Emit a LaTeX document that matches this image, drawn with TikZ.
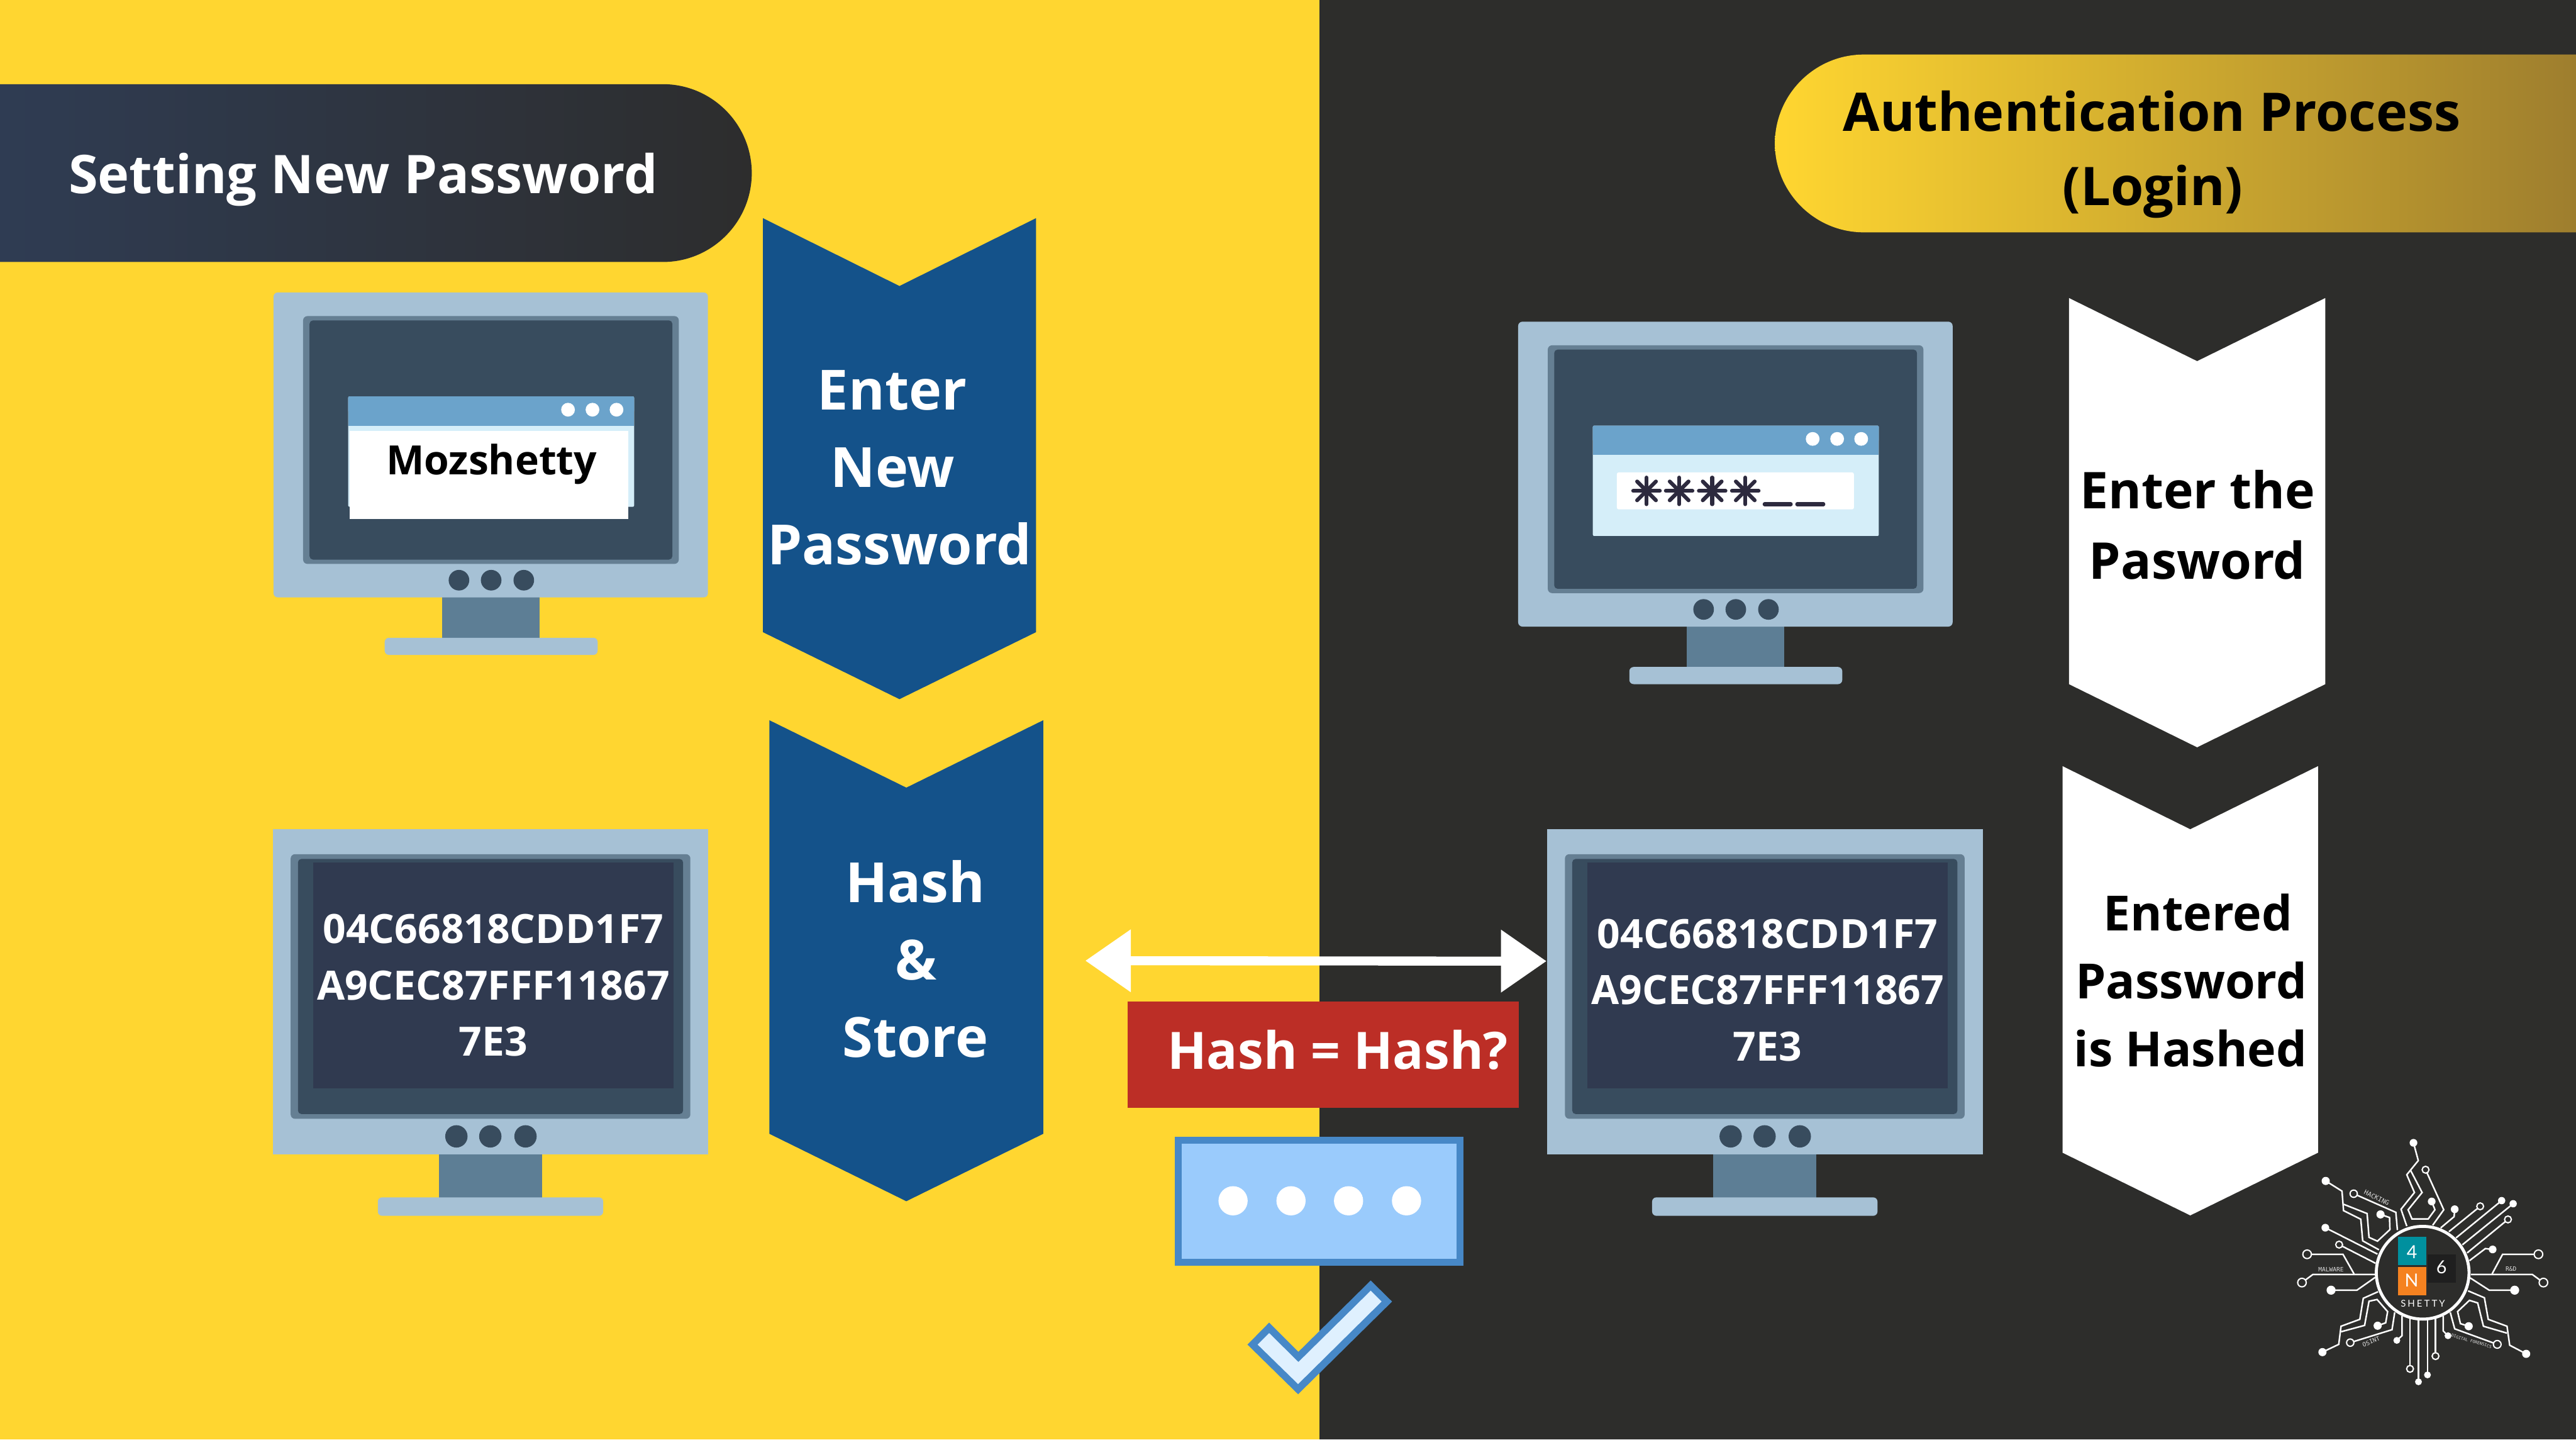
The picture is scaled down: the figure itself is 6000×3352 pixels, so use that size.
\documentclass[tikz,border=0pt]{standalone}
\usepackage{fontspec}
\setmainfont{Open Sans}
\newfontfamily\logomono{DejaVu Sans Mono}
\newfontfamily\logosans{Lato}
\usetikzlibrary{arrows.meta}
\definecolor{bgyellow}{HTML}{FFD630}
\definecolor{bgdark}{HTML}{2D2D2B}
\definecolor{headblue}{HTML}{2F3C53}
\definecolor{headdark}{HTML}{2D2D2D}
\definecolor{headgold}{HTML}{9E7E2E}
\definecolor{chevblue}{HTML}{14528A}
\definecolor{monbody}{HTML}{A6C1D5}
\definecolor{monbezel}{HTML}{657F93}
\definecolor{monscreen}{HTML}{384C5E}
\definecolor{monneck}{HTML}{5D7E95}
\definecolor{moninner}{HTML}{303A50}
\definecolor{wintitle}{HTML}{6BA3CB}
\definecolor{winbody}{HTML}{D5EEF9}
\definecolor{starcol}{HTML}{2D2A3E}
\definecolor{hashred}{HTML}{BC2E26}
\definecolor{boxfill}{HTML}{9ACBFC}
\definecolor{boxline}{HTML}{4788C7}
\definecolor{tickfill}{HTML}{DFF0FE}
\definecolor{logoteal}{HTML}{00909E}
\definecolor{logoorange}{HTML}{F58220}
\definecolor{logoblack}{HTML}{1F1F1F}
\definecolor{logotext}{HTML}{DDDDDD}
\newcommand{\fs}[1]{\fontsize{#1}{#1}\selectfont}
\newcommand{\chev}[7]{% fill, left, right, top, notch, side, tip
  \fill[#1] (#2,#4) -- ({(#2+#3)/2},#5) -- (#3,#4) -- (#3,#6) -- ({(#2+#3)/2},#7) -- (#2,#6) -- cycle;}
\newcommand{\monitorA}[2]{%
  \begin{scope}[shift={(#1,#2)}]
    \fill[monneck] (1030,1385) rectangle (1257,1490);
    \fill[monbody,rounded corners=10pt] (896,1485) rectangle (1392,1525);
    \fill[monbody,rounded corners=10pt] (637,681) rectangle (1649,1391);
    \fill[monbezel,rounded corners=10pt] (706,736) rectangle (1581,1313);
    \fill[monscreen,rounded corners=8pt] (721,746) rectangle (1566,1303);
    \fill[winbody,rounded corners=3pt] (811,923) rectangle (1477,1180);
    \fill[wintitle,rounded corners=3pt] (811,923) rectangle (1477,960);
    \fill[wintitle] (811,945) rectangle (1477,991);
    \foreach \px in {1323,1380,1436} \fill[white] (\px,954) circle[radius=16pt];
    \foreach \px in {1069,1144,1220} \fill[monscreen] (\px,1351) circle[radius=24pt];
  \end{scope}}
\newcommand{\monitorB}[2]{%
  \begin{scope}[shift={(#1,#2)}]
    \fill[monneck] (1022,2680) rectangle (1263,2795);
    \fill[monbody,rounded corners=10pt] (880,2788) rectangle (1405,2831);
    \fill[monbody] (636,1930) rectangle (1650,2688);
    \fill[monbezel,rounded corners=10pt] (677,1989) rectangle (1608,2605);
    \fill[monscreen,rounded corners=8pt] (694,2000) rectangle (1591,2594);
    \fill[moninner] (729,2008) rectangle (1569,2534);
    \foreach \px in {1063,1142,1224} \fill[monscreen] (\px,2646) circle[radius=26pt];
  \end{scope}}
\tikzset{
  txt/.style={anchor=base,inner sep=0pt,font=\bfseries},
  trace/.style={draw=white,line width=3.6pt,line join=miter},
  logolabel/.style={inner sep=0pt,text=logotext,font=\logomono},
  logoletter/.style={inner sep=0pt,text=white,font=\logosans}
}
\newcommand{\dotF}[3]{\fill[white] (#1,#2) circle[radius=#3pt];}
\newcommand{\dotO}[3]{\draw[white,line width=3pt,fill=bgdark] (#1,#2) circle[radius=#3pt];}
\begin{document}
\begin{tikzpicture}[x=1pt,y=-1pt]
\useasboundingbox (0,0) rectangle (6000,3352);
% backgrounds
\fill[bgyellow] (0,0) rectangle (3073,3352);
\fill[bgdark] (3073,0) rectangle (6000,3352);
% headers
\shade[left color=headblue,right color=headdark]
  (0,196) -- (1544,196) .. controls (1658,196) and (1751,289) .. (1751,403)
  .. controls (1751,517) and (1658,610) .. (1544,610) -- (0,610) -- cycle;
\node[txt,text=white] (headL) at (846,450) {\fs{124}Setting New Password};
\shade[left color=bgyellow,right color=headgold]
  (6000,127) -- (4341,127) .. controls (4227,127) and (4134,220) .. (4134,334)
  .. controls (4134,448) and (4227,541) .. (4341,541) -- (6000,541) -- cycle;
\node[txt,text=black] (headR1) at (5012,306) {\fs{124}Authentication Process};
\node[txt,text=black] (headR2) at (5014,478) {\fs{124}(Login)};
% monitors
\monitorA{0}{0}
\fill[white] (815,1003) rectangle (1464,1209);
\node[txt,text=black] (moz) at (1145,1105) {\fs{94}Mozshetty};
\monitorA{2899}{68}
\fill[white,rounded corners=4pt] (3766,1100) rectangle (4318,1186);
\foreach \cx in {3835,3911,3988,4065} {
  \begin{scope}[shift={(\cx,1143)}]
    \foreach \a in {0,45,90,135}
      \draw[starcol,line width=9pt,line cap=round] (\a:31) -- (\a+180:31);
  \end{scope}}
\draw[starcol,line width=9pt,line cap=round] (4110,1174) -- (4171,1174);
\draw[starcol,line width=9pt,line cap=round] (4186,1174) -- (4247,1174);
\monitorB{0}{0}
\node[txt,text=white] (hashA1) at (1149,2197) {\fs{94}04C66818CDD1F7};
\node[txt,text=white] (hashA2) at (1149,2328) {\fs{94}A9CEC87FFF11867};
\node[txt,text=white] (hashA3) at (1149,2458) {\fs{94}7E3};
\monitorB{2968}{0}
\node[txt,text=white] (hashB1) at (4117,2208) {\fs{94}04C66818CDD1F7};
\node[txt,text=white] (hashB2) at (4117,2339) {\fs{94}A9CEC87FFF11867};
\node[txt,text=white] (hashB3) at (4117,2471) {\fs{94}7E3};
% chevrons
\chev{chevblue}{1777}{2413}{508}{666}{1472}{1628}
\node[txt,text=white] (c1a) at (2078,954) {\fs{129}Enter};
\node[txt,text=white] (c1b) at (2079,1134) {\fs{129}New};
\node[txt,text=white] (c1c) at (2095,1315) {\fs{129}Password};
\chev{chevblue}{1792}{2430}{1677}{1834}{2640}{2797}
\node[txt,text=white] (c2a) at (2132,2102) {\fs{129}Hash};
\node[txt,text=white] (c2b) at (2134,2282) {\fs{129}\&};
\node[txt,text=white] (c2c) at (2132,2462) {\fs{129}Store};
\chev{white}{4819}{5416}{694}{841}{1593}{1740}
\node[txt,text=black] (c3a) at (5118,1184) {\fs{118}Enter the};
\node[txt,text=black] (c3b) at (5118,1349) {\fs{118}Pasword};
\chev{white}{4804}{5399}{1784}{1931}{2684}{2830}
\node[txt,text=black] (c4a) at (5119,2167) {\fs{113}Entered};
\node[txt,text=black] (c4b) at (5104,2325) {\fs{113}Password};
\node[txt,text=black] (c4c) at (5102,2483) {\fs{113}is Hashed};
% compare arrow
\coordinate (arrL) at (2528,2237);
\coordinate (arrR) at (3602,2238);
\draw[white,line width=21pt,{Triangle[length=106pt,width=141pt]}-{Triangle[length=106pt,width=141pt]}] (arrL) -- (arrR);
% hash label
\fill[hashred] (2627,2332) rectangle (3538,2579);
\node[txt,text=white] (hasheq) at (3116,2490) {\fs{120}Hash = Hash?};
% password box
\fill[boxline] (2737,2647) rectangle (3409,2947);
\fill[boxfill] (2753,2663) rectangle (3393,2931);
\foreach \px in {2872,3007,3141,3276} \fill[white] (\px,2796) circle[radius=34pt];
% check
\begin{scope}[shift={(2500,2100)},x=0.7653pt,y=-0.7653pt]
  \fill[boxline] (905,1152) -- (970,1216) -- (684,1498) -- (530,1347) -- (596,1280) -- (685,1369) -- cycle;
  \fill[tickfill] (905,1183) -- (938,1216) -- (684,1467) -- (561,1347) -- (596,1312) -- (685,1400) -- cycle;
\end{scope}
% logo
\begin{scope}[shift={(5300,2620)},x=0.4464pt,y=-0.4018pt]
  \draw[trace] (720,102) -- (745,205) -- (685,287) -- (725,390) -- (655,487) -- (685,585);
  \draw[trace] (705,262) -- (765,390) -- (692,490) -- (712,543) -- (797,543) -- (832,490) -- (815,442);
  \draw[trace] (783,258) -- (878,490) -- (820,580);
  \draw[trace] (935,487) -- (932,530) -- (862,595);
  \draw[trace] (1068,470) -- (905,617);
  \draw[trace] (1180,437) -- (942,653);
  \draw[trace] (1240,455) -- (975,693);
  \draw[trace] (1213,546) -- (1000,740);
  \draw[trace] (1133,720) -- (1095,715) -- (1012,785);
  \draw[trace] (1372,748) -- (1185,748) -- (1130,862);
  \draw[trace] (1398,912) -- (1340,865) -- (1020,865);
  \draw[trace] (1248,956) -- (1115,956) -- (1016,885);
  \draw[trace] (1308,1325) -- (1222,1275) -- (1208,1165) -- (1110,1125) -- (1090,1000) -- (1005,960);
  \draw[trace] (1208,1205) -- (1085,1165) -- (1055,1030) -- (1012,1015) -- (950,1080) -- (965,1150) -- (1008,1165);
  \draw[trace] (1157,1270) -- (935,1180) -- (912,1085);
  \draw[trace] (900,1220) -- (875,1192) -- (875,1105);
  \draw[trace] (835,1338) -- (835,1118);
  \draw[trace] (793,1447) -- (793,1125);
  \draw[trace] (746,1487) -- (746,1125);
  \draw[trace] (702,1412) -- (702,1118);
  \draw[trace] (633,1247) -- (660,1220) -- (660,1105);
  \draw[trace] (390,1260) -- (608,1185) -- (622,1085);
  \draw[trace] (245,1315) -- (330,1270) -- (342,1165) -- (440,1125) -- (458,1003) -- (535,965);
  \draw[trace] (342,1197) -- (465,1160) -- (488,1020) -- (530,1010) -- (585,1080) -- (575,1145) -- (533,1162);
  \draw[trace] (290,956) -- (425,956) -- (520,882);
  \draw[trace] (138,912) -- (195,865) -- (518,865);
  \draw[trace] (165,748) -- (352,748) -- (410,862);
  \draw[trace] (332,692) -- (522,800);
  \draw[trace] (260,594) -- (532,747);
  \draw[trace] (262,323) -- (347,382) -- (355,495) -- (445,545) -- (455,670) -- (540,722);
  \draw[trace] (355,458) -- (478,512) -- (488,650) -- (532,672) -- (597,605) -- (595,535) -- (548,517);
  \draw[trace] (408,397) -- (628,505) -- (636,608);
  % ends
  \dotF{720}{102}{9} \dotF{815}{442}{9} \dotF{935}{487}{9} \dotF{1180}{437}{8.5}
  \dotF{1240}{455}{8.5} \dotF{1133}{720}{9} \dotF{1248}{956}{10.5} \dotF{1308}{1325}{9.5}
  \dotF{1008}{1165}{9.5} \dotF{900}{1220}{8} \dotF{793}{1447}{8} \dotF{746}{1487}{8}
  \dotF{633}{1247}{8} \dotF{245}{1315}{9.5} \dotF{533}{1162}{9.5} \dotF{290}{956}{10.5}
  \dotF{260}{594}{9} \dotF{262}{323}{9.5} \dotF{548}{517}{9.5}
  \dotO{783}{258}{8} \dotO{1068}{470}{8} \dotO{1213}{546}{8} \dotO{1372}{748}{10}
  \dotO{1398}{912}{10} \dotO{1157}{1270}{9} \dotO{835}{1338}{8} \dotO{702}{1412}{8}
  \dotO{390}{1260}{8.5} \dotO{138}{912}{10} \dotO{165}{748}{10} \dotO{332}{692}{8}
  \dotO{408}{397}{8.5}
  % ring
  \draw[white,line width=7pt,fill=bgdark] (768,855) circle[radius=108pt];
  \fill[logoteal] (638,647) rectangle (788,811);
  \fill[logoorange] (638,820) rectangle (788,985);
  \fill[logoblack] (793,748) rectangle (942,913);
  \node[logoletter] (lg4) at (712,735) {\fs{42}4};
  \node[logoletter] (lgN) at (710,898) {\fs{42}N};
  \node[logoletter] (lg6) at (866,823) {\fs{42}6};
  \node[logoletter] (lgS) at (769,1035) {\fs{22}\addfontfeature{LetterSpace=20}SHETTY};
  \node[logolabel,rotate=-26] (lgH) at (528,420) {\fs{15}HACKING};
  \node[logolabel] (lgM) at (290,838) {\fs{14}MALWARE};
  \node[logolabel] (lgR) at (1229,832) {\fs{14}R\&D};
  \node[logolabel,rotate=22] (lgO) at (499,1254) {\fs{14}OSINT};
  \node[logolabel,rotate=-16] (lgD) at (1023,1251) {\fs{9.5}DIGITAL FORENSICS};
\end{scope}
\end{tikzpicture}
\end{document}
